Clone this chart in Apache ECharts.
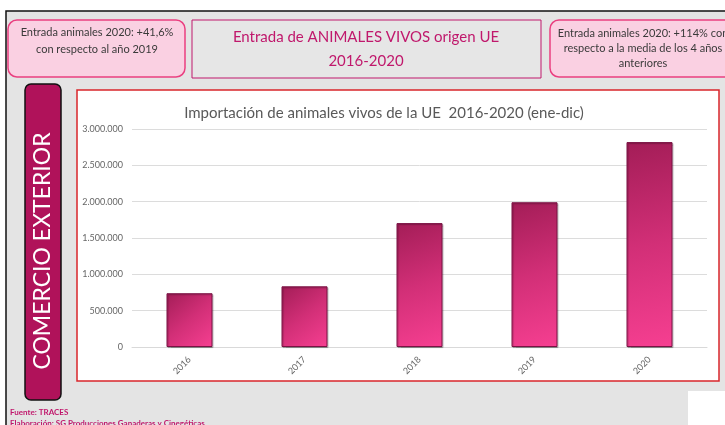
<!DOCTYPE html>
<html>
<head>
<meta charset="utf-8">
<script src="https://cdn.jsdelivr.net/npm/echarts@6/dist/echarts.min.js"></script>
<style>
  html, body { margin: 0; padding: 0; background: #fff; }
  #chart { width: 725px; height: 425px; }
</style>
</head>
<body>
<div id="chart"></div>
<script>
// Entrada de animales vivos origen UE
// ====================================

const years = ['2016', '2017', '2018', '2019', '2020']
const imports = [740000, 835000, 1705000, 1992000, 2820000]

const yTicks = { min: 0, max: 3000000, interval: 500000 }

const pink = '#c0186c'
const font = 'Lato'

// 1234567 -> 1.234.567
function miles(v) {
  return String(v).replace(/\B(?=(\d{3})+(?!\d))/g, '.')
}

const barColor = new echarts.graphic.LinearGradient(0, 0, 1, 1, [
  { offset: 0, color: '#a31d57' },
  { offset: 0.5, color: '#d22f77' },
  { offset: 1, color: '#f63f91' },
])

const decor = [
  // fondo gris y marco negro
  { type: 'rect', shape: { x: 6, y: 11, width: 725, height: 420 },
    style: { fill: '#e4e4e4', stroke: '#111', lineWidth: 1.5 } },
  { type: 'rect', shape: { x: 688, y: 391, width: 40, height: 40 },
    style: { fill: '#fff' } },
  // cajas superiores
  { type: 'rect', shape: { x: 8, y: 20, width: 177, height: 57, r: 9 },
    style: { fill: '#fad0e2', stroke: '#ea3f80', lineWidth: 1.5 } },
  { type: 'text', x: 97, y: 41, style: {
      text: 'Entrada animales 2020: +41,6%\ncon respecto al año 2019',
      fill: '#3a3a3a', font: '11px ' + font, align: 'center', verticalAlign: 'middle', lineHeight: 17 } },
  { type: 'rect', shape: { x: 192, y: 20, width: 349, height: 58 },
    style: { fill: '#e6e6e6', stroke: pink, lineWidth: 1 } },
  { type: 'text', x: 366, y: 49, style: {
      text: 'Entrada de ANIMALES VIVOS origen UE\n2016-2020',
      fill: pink, font: '15px ' + font, align: 'center', verticalAlign: 'middle', lineHeight: 24 } },
  { type: 'rect', shape: { x: 550, y: 20, width: 200, height: 57, r: 9 },
    style: { fill: '#fad0e2', stroke: '#ea3f80', lineWidth: 1.5 } },
  { type: 'text', x: 643, y: 48, style: {
      text: 'Entrada animales 2020: +114% con\nrespecto a la media de los 4 años\nanteriores',
      fill: '#3a3a3a', font: '11px ' + font, align: 'center', verticalAlign: 'middle', lineHeight: 15 } },
  // etiqueta vertical
  { type: 'rect', shape: { x: 25, y: 84, width: 36, height: 316, r: 6 },
    style: { fill: '#b0125a', stroke: '#111', lineWidth: 1.5 } },
  { type: 'text', x: 43, y: 251, rotation: Math.PI / 2, style: {
      text: 'COMERCIO EXTERIOR', fill: '#fff', font: '23px ' + font,
      align: 'center', verticalAlign: 'middle' } },
  // caja del gráfico
  { type: 'rect', shape: { x: 77, y: 90, width: 642, height: 291 },
    style: { fill: '#fff', stroke: '#d9262b', lineWidth: 1.5 } },
  { type: 'text', x: 384, y: 113, style: {
      text: 'Importación de animales vivos de la UE  2016-2020 (ene-dic)',
      fill: '#595959', font: '15px ' + font, align: 'center', verticalAlign: 'middle' } },
  // pie
  { type: 'text', x: 10, y: 412, style: {
      text: 'Fuente: TRACES', fill: pink, font: 'bold 8px ' + font, verticalAlign: 'middle' } },
  { type: 'text', x: 10, y: 423, style: {
      text: 'Elaboración: SG Producciones Ganaderas y Cinegéticas', fill: pink,
      font: 'bold 8px ' + font, verticalAlign: 'middle' } },
]

const chart = echarts.init(document.getElementById('chart'))
chart.setOption({
  animation: false,
  graphic: { elements: decor },
  grid: { left: 132, right: 18, top: 129, bottom: 78, containLabel: false },
  xAxis: {
    type: 'category',
    data: years,
    z: 3,
    axisLine: { lineStyle: { color: '#d9d9d9' } },
    axisTick: { show: false },
    axisLabel: { rotate: 45, color: '#666', fontSize: 9, fontFamily: font, margin: 11 },
  },
  yAxis: {
    type: 'value',
    min: yTicks.min,
    max: yTicks.max,
    interval: yTicks.interval,
    z: 3,
    axisLine: { show: false },
    axisTick: { show: false },
    axisLabel: { color: '#666', fontSize: 9, fontFamily: font, margin: 9, formatter: miles },
    splitLine: { lineStyle: { color: '#dcdcdc' } },
  },
  series: [{
    type: 'bar',
    z: 4,
    data: imports,
    barWidth: '40%',
    itemStyle: {
      color: barColor,
      borderColor: '#7a1244',
      borderWidth: 1,
      shadowColor: 'rgba(0,0,0,0.25)',
      shadowOffsetX: 1,
      shadowOffsetY: 1,
      shadowBlur: 1,
    },
  }],
})
</script>
</body>
</html>
